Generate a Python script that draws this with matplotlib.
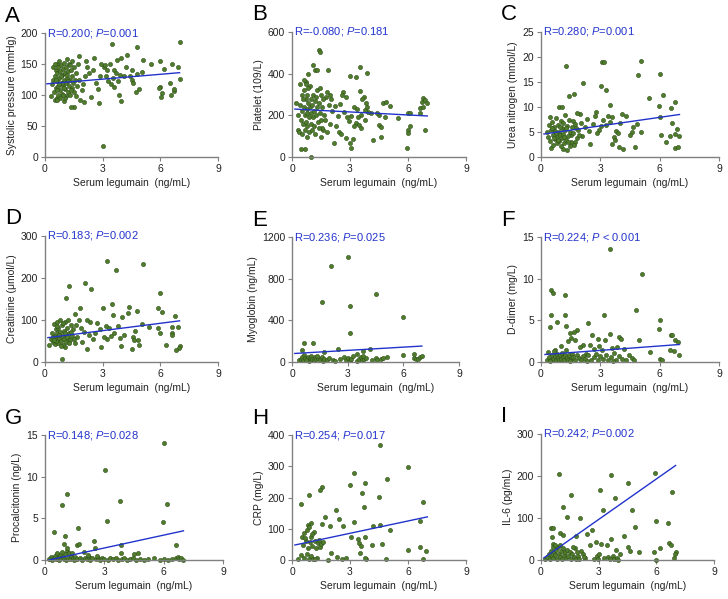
import numpy as np
import matplotlib
matplotlib.use("Agg")
import matplotlib.pyplot as plt

plt.rcParams['font.family'] = ['Liberation Sans', 'DejaVu Sans']
plt.rcParams['mathtext.fontset'] = 'custom'
plt.rcParams['mathtext.rm'] = 'Liberation Sans'
plt.rcParams['mathtext.it'] = 'Liberation Sans:italic'

# ---- data ----
letters = ["A", "B", "C", "D", "E", "F", "G", "H", "I"]
ylabels = ["Systolic pressure (mmHg)", "Platelet (109/L)", "Urea nitrogen (mmol/L)",
           "Creatinine (\u03bcmol/L)", "Myoglobin (ng/mL)", "D-dimer (mg/L)",
           "Procalcitonin (ng/L)", "CRP (mg/L)", "IL-6 (pg/mL)"]
r_values = ["0.200", "-0.080", "0.280", "0.183", "0.236", "0.224", "0.148", "0.254", "0.242"]
p_values = ["=0.001", "=0.181", "=0.001", "=0.002", "=0.025", " < 0.001", "=0.028", "=0.017", "=0.002"]
y_max = [200, 600, 25, 300, 1200, 15, 15, 400, 300]
y_step = [50, 200, 5, 100, 400, 5, 5, 100, 100]

# regression line ends (x0, y0, x1, y1)
fit_lines = [(0.1, 118, 7.0, 136), (0.15, 230, 7.0, 197), (0.15, 4.6, 7.0, 8.5),
             (0.15, 58, 7.0, 98), (0.15, 82, 7.0, 153), (0.2, 0.9, 7.0, 2.1),
             (0.2, 0.0, 7.0, 3.5), (0.15, 48, 7.0, 138), (0.15, 5, 7.0, 225)]

pts_a = [(3.0,17),(7.0,185),(4.8,178),(3.5,182),(1.75,163),(2.55,160),(4.25,165),(3.75,157),(3.95,160),
         (5.1,157),(5.5,150),(6.0,155),(6.2,142),(6.6,150),(6.9,145),(7.0,126),(6.0,113),(6.05,96),(6.1,104),
         (6.55,100),(6.7,106),(6.7,110),(6.5,120),(5.95,112),(4.75,105),(4.9,110),(4.5,125),(4.6,120),(4.4,130),
         (4.55,140),(4.8,134),(5.05,137),(3.85,100),(3.95,90),(3.6,113),(3.45,118),(3.3,122),(3.15,130),(3.05,145),
         (3.1,148),(3.25,140),(3.4,150),(3.6,140),(3.7,135),(3.55,127),(3.8,122),(3.9,133),(4.1,130),(4.2,145),
         (2.8,87),(2.4,97),(2.9,150),(2.85,130),(2.75,110),(2.65,120),(2.5,140),(2.3,135),(2.2,145),(2.1,130),
         (2.0,118),(1.9,108),(1.8,92),(2.05,88),(1.5,80),(1.35,80),(2.15,155),
         (0.3,98),(0.35,118),(0.4,125),(0.45,105),(0.5,92),(0.5,130),(0.55,140),(0.55,112),(0.6,95),(0.6,150),
         (0.65,122),(0.65,135),(0.7,100),(0.7,145),(0.7,115),(0.75,128),(0.75,155),(0.8,108),(0.8,138),(0.8,95),
         (0.85,120),(0.85,148),(0.9,132),(0.9,102),(0.95,115),(0.95,142),(1.0,125),(1.0,90),(1.0,152),(1.05,110),
         (1.05,135),(1.1,120),(1.1,145),(1.1,98),(1.15,128),(1.15,158),(1.2,105),(1.2,138),(1.25,115),(1.25,150),
         (1.3,125),(1.3,100),(1.35,140),(1.4,112),(1.4,130),(1.45,120),(1.5,145),(1.5,105),(1.55,125),(1.6,135),
         (1.6,98),(1.65,115),(1.7,150),(1.75,125),(0.4,145),(0.5,150),(0.6,108),(0.9,120),(1.2,122),(0.75,118),
         (1.0,112),(1.3,148),(0.65,92),(0.85,130),(1.05,95),(1.4,155),(0.55,125),(0.95,100),(1.15,132),(1.35,108)]

pts_b = [(1.4,515),(1.45,505),(1.1,440),(1.2,420),(1.3,420),(1.85,420),(3.5,430),(3.9,405),(3.0,390),(3.3,385),
         (0.85,400),(0.7,360),(0.6,370),(1.0,0),(0.45,40),(0.65,40),(5.95,45),(3.05,45),(3.0,65),(2.15,65),
         (4.2,80),(4.6,95),(3.15,85),(2.8,90),(6.9,130),(6.1,150),(6.0,130),(6.0,115),(5.5,185),(4.8,190),
         (4.5,200),(4.4,210),(4.7,260),(4.85,265),(5.05,245),(6.0,210),(6.1,210),(6.6,210),(6.6,235),(6.7,265),
         (6.75,285),(6.9,275),(7.0,260),(6.8,240),(4.5,155),(4.6,145),(4.1,210),(3.95,215),(3.85,260),(3.7,290),
         (3.5,315),(3.6,280),(3.75,225),(3.55,200),(3.4,190),(3.3,165),(3.2,150),(3.45,155),(3.55,140),(3.75,180),
         (3.9,240),(2.65,310),(2.6,300),(2.8,290),(2.5,255),(2.4,195),(2.3,150),(2.45,120),(2.55,110),(2.7,215),
         (2.85,190),(2.95,175),(3.05,195),(3.2,240),(3.35,230),(2.0,280),(1.95,300),(1.8,310),(1.75,290),(1.9,250),
         (2.05,220),(1.7,180),(1.6,130),(1.5,95),(1.55,140),(1.8,120),(1.95,160),(2.2,245),
         (0.2,260),(0.3,200),(0.3,130),(0.35,120),(0.4,350),(0.4,250),(0.45,180),(0.5,300),(0.5,220),(0.5,110),
         (0.55,160),(0.6,320),(0.6,240),(0.65,200),(0.65,130),(0.7,280),(0.7,170),(0.75,230),(0.75,95),(0.8,300),
         (0.8,210),(0.8,150),(0.85,260),(0.9,190),(0.9,120),(0.95,340),(0.95,240),(1.0,280),(1.0,160),(1.0,210),
         (1.05,130),(1.05,250),(1.1,300),(1.1,190),(1.15,220),(1.15,150),(1.2,270),(1.2,110),(1.25,200),(1.3,320),
         (1.3,240),(1.35,170),(1.4,140),(1.4,260),(1.45,210),(1.5,300),(1.5,180),(1.55,240),(1.6,280),(1.65,200),
         (0.55,280),(0.85,330),(1.25,290),(0.7,350),(1.45,330)]

pts_c = [(1.25,18.3),(3.1,19),(3.2,19),(5.05,19.3),(4.9,16.4),(6.0,16.6),(2.1,14.8),(3.05,14.3),(3.3,13.4),
         (1.65,12.7),(1.4,12.3),(5.45,11.9),(6.15,12.5),(6.8,11.0),(5.95,10.3),(6.55,9.8),(3.5,10.5),(0.9,10.1),
         (1.05,10.1),(0.45,8.0),(6.0,8.1),(6.6,6.9),(6.9,5.6),(6.75,4.6),(7.0,4.2),(6.5,4.2),(6.05,4.5),(6.3,3.1),
         (6.75,1.8),(6.95,2.0),(5.05,5.0),(4.75,2.0),(4.15,1.6),(3.95,2.0),(4.0,6.8),(4.3,8.2),(4.1,8.6),(4.6,5.0),
         (4.65,6.0),(4.5,4.5),(4.85,6.6),(3.6,2.7),(3.7,4.0),(3.75,3.4),(3.8,5.2),(3.9,4.8),(3.6,8.0),(3.4,8.3),
         (3.5,7.0),(3.3,6.5),(3.15,7.5),(3.05,6.2),(2.95,5.5),(2.85,4.8),(2.8,9.0),(2.75,8.3),(2.65,6.6),(2.5,2.7),
         (2.45,5.3),(2.35,7.6),(2.2,6.0),(2.05,4.2),(1.95,8.6),(1.8,8.9),(1.75,5.8),(1.7,3.0),(1.6,7.2),(1.5,4.5),
         (1.45,2.2),(1.3,1.4),(1.1,1.6),
         (0.3,5.0),(0.35,4.0),(0.4,6.5),(0.45,3.2),(0.5,5.5),(0.5,1.8),(0.55,7.0),(0.6,4.4),(0.6,2.5),(0.65,6.0),
         (0.7,3.6),(0.7,5.2),(0.75,7.8),(0.8,4.0),(0.8,2.9),(0.85,6.4),(0.9,5.0),(0.9,3.3),(0.95,4.5),(1.0,7.2),
         (1.0,2.2),(1.05,5.8),(1.05,3.8),(1.1,6.8),(1.1,4.6),(1.15,2.8),(1.2,5.4),(1.2,8.5),(1.25,3.5),(1.3,6.2),
         (1.35,4.2),(1.4,7.5),(1.45,5.0),(1.5,3.0),(1.55,6.0),(1.6,4.8),(1.65,2.5),(1.7,6.6),(1.8,3.8),(1.85,5.5),
         (1.9,4.4),(2.0,6.8),(0.65,3.9),(0.95,6.1),(1.25,5.8),(0.75,4.8),(1.15,4.0),(0.55,5.8),(0.85,3.4),(1.35,3.1)]

pts_d = [(3.2,240),(5.1,233),(3.7,218),(2.1,188),(1.25,182),(2.4,175),(6.0,165),(1.1,152),(3.5,138),(4.35,132),
         (1.8,128),(3.0,128),(5.9,128),(4.8,122),(6.1,118),(4.3,117),(1.55,115),(3.55,112),(6.75,110),(4.0,108),
         (5.05,90),(5.4,83),(5.9,80),(6.0,70),(6.6,68),(6.6,65),(6.9,83),(6.6,83),(7.0,38),(6.95,33),(6.8,28),
         (6.3,40),(4.5,30),(2.9,35),(3.95,38),(2.2,30),(0.9,6),(1.05,35),(3.15,85),(3.35,82),(3.6,70),(3.8,85),
         (3.9,58),(4.1,65),(4.6,60),(4.7,75),(4.85,53),(4.9,40),(4.65,52),(3.45,62),(3.25,55),(3.05,60),(2.85,78),
         (2.7,92),(2.6,68),(2.5,55),(2.35,95),(2.3,65),(2.2,100),(2.05,72),(1.95,48),(1.85,80),(1.75,100),(1.65,60),
         (1.6,88),(1.55,45),
         (0.2,40),(0.3,55),(0.35,70),(0.4,48),(0.45,90),(0.5,62),(0.5,42),(0.55,78),(0.6,55),(0.6,95),(0.65,68),
         (0.7,45),(0.7,82),(0.75,58),(0.8,100),(0.8,72),(0.85,50),(0.9,88),(0.9,62),(0.95,40),(1.0,75),(1.0,55),
         (1.05,95),(1.1,65),(1.1,48),(1.15,82),(1.2,58),(1.2,100),(1.25,70),(1.3,52),(1.35,88),(1.4,62),(1.45,78),
         (1.5,55),(0.4,60),(0.65,85),(0.85,38),(1.05,68),(0.55,50),(0.95,92),(1.25,45),(0.75,65),(1.15,60),
         (0.45,52),(1.35,72)]

pts_e = [(3.0,1005),(2.1,925),(4.5,650),(1.6,580),(3.15,540),(6.0,430),(3.1,275),(0.65,185),(1.15,180),
         (0.55,120),(2.5,125),(4.2,125),(3.8,110),(1.7,95),(3.5,80),(0.65,70),(6.55,75),(6.0,65),
         (0.4,20),(0.5,30),(0.55,45),(0.6,15),(0.7,35),(0.8,25),(0.85,50),(0.9,10),(0.95,40),(1.0,20),(1.05,55),
         (1.1,30),(1.2,15),(1.25,45),(1.3,25),(1.4,35),(1.5,20),(1.6,50),(1.65,10),(1.75,30),(1.9,20),(2.0,40),
         (2.2,15),(2.3,10),(2.6,25),(2.8,45),(2.9,20),(3.0,35),(3.1,15),(3.2,25),(3.5,10),(3.6,30),(3.7,45),
         (3.75,15),(3.9,25),(4.0,40),(4.3,20),(4.5,35),(4.6,15),(4.8,25),(4.9,40),(5.1,50),(6.6,40),(6.7,25),
         (6.8,30),(6.9,45),(7.0,55),(0.75,15),(1.35,60),(3.3,55),(3.85,60)]

pts_f = [(3.5,13.6),(5.1,10.6),(0.5,8.6),(0.6,8.3),(1.2,8.0),(4.8,6.2),(0.5,5.6),(1.2,5.6),(3.2,5.6),(6.0,5.0),
         (0.45,4.2),(0.8,4.8),(1.25,4.3),(2.4,4.7),(5.95,4.0),(1.45,3.5),(1.8,3.8),(1.65,3.6),(3.5,3.4),(2.6,3.2),
         (2.9,2.8),(3.25,2.7),(3.95,3.0),(4.05,2.8),(4.95,2.7),(6.55,3.3),(6.6,3.2),(6.8,2.6),(6.95,2.4),(7.0,0.8),
         (6.5,1.4),(6.7,1.3),(6.0,0.4),(6.1,0.2),(5.5,1.2),(4.6,0.5),(4.2,1.6),(3.85,1.8),(3.6,1.7),(3.1,1.4),
         (2.95,1.9),(2.7,1.6),(2.5,2.0),(2.3,1.0),(2.1,2.1),(1.95,1.8),(1.7,2.6),(1.5,2.9),(1.35,2.5),(1.0,1.9),
         (0.7,1.5),(0.35,1.2),
         (0.3,0.3),(0.4,0.6),(0.5,0.2),(0.55,0.9),(0.6,0.4),(0.7,0.7),(0.75,0.2),(0.8,1.0),(0.85,0.5),(0.9,0.3),
         (0.95,0.8),(1.0,0.4),(1.05,1.1),(1.1,0.6),(1.15,0.2),(1.2,0.9),(1.3,0.5),(1.35,0.3),(1.4,0.8),(1.5,0.4),
         (1.55,1.0),(1.6,0.6),(1.7,0.3),(1.8,0.8),(1.9,0.5),(2.0,0.2),(2.1,0.7),(2.2,0.4),(2.4,0.9),(2.55,0.3),
         (2.7,0.6),(2.8,1.0),(2.9,0.2),(3.0,0.7),(3.15,0.4),(3.3,0.9),(3.4,0.3),(3.55,0.6),(3.7,1.1),(3.8,0.3),
         (3.95,0.7),(4.1,0.4),(4.3,0.2),(4.45,0.8),(4.7,0.3),(0.65,1.3),(1.25,1.5),(0.45,0.1),(1.45,0.1),
         (2.35,0.1),(3.65,0.1)]

pts_g = [(6.0,14.1),(3.05,10.8),(1.1,7.9),(0.85,6.6),(3.8,7.1),(6.15,6.7),(3.15,4.7),(5.95,4.6),(1.65,3.8),
         (0.45,3.4),(1.0,2.9),(2.5,2.3),(0.95,1.9),(1.6,1.8),(1.7,1.9),(3.85,1.8),(6.6,1.8),(2.55,1.4),(3.85,0.8),
         (4.5,0.7),(4.7,0.8),(1.95,1.0),(1.1,1.1),(0.6,0.7),(0.3,0.4),
         (0.2,0.1),(0.35,0.0),(0.45,0.2),(0.5,0.5),(0.55,0.1),(0.65,0.3),(0.7,0.0),(0.75,0.6),(0.8,0.2),(0.9,0.4),
         (0.95,0.1),(1.0,0.7),(1.05,0.0),(1.15,0.3),(1.2,0.9),(1.25,0.1),(1.3,0.5),(1.4,0.2),(1.45,0.0),(1.5,0.4),
         (1.6,0.1),(1.75,0.3),(1.85,0.0),(2.0,0.2),(2.1,0.1),(2.2,0.4),(2.3,0.0),(2.4,0.2),(2.6,0.1),(2.7,0.3),
         (2.8,0.0),(2.9,0.2),(3.0,0.1),(3.2,0.0),(3.3,0.2),(3.45,0.1),(3.6,0.3),(3.7,0.0),(3.9,0.1),(4.0,0.2),
         (4.15,0.0),(4.3,0.1),(4.45,0.3),(4.6,0.0),(4.8,0.1),(5.0,0.0),(5.2,0.1),(5.5,0.2),(5.8,0.0),(6.0,0.1),
         (6.2,0.0),(6.4,0.1),(6.6,0.3),(6.7,0.4),(6.8,0.1),(6.9,0.2),(7.0,0.0),(1.1,1.4),(0.85,1.0),(0.6,0.9),
         (1.35,0.8),(2.15,0.6),(2.65,0.5)]

pts_h = [(4.55,368),(6.0,298),(3.2,278),(4.9,258),(3.75,246),(3.0,240),(1.55,235),(1.45,225),(3.6,216),
         (0.9,207),(4.5,203),(6.75,185),(0.45,180),(3.7,170),(2.25,160),(1.7,138),(2.45,132),(6.6,126),(1.0,118),
         (1.55,115),(3.2,123),(1.95,108),(2.65,108),(0.85,112),(4.2,108),(4.55,112),(5.05,96),(3.05,74),(3.4,68),
         (3.8,74),(3.45,55),(3.55,45),(4.15,48),(4.65,52),(6.6,42),(6.0,32),(6.95,30),(3.5,22),(2.0,22),(1.85,0),
         (2.35,10),(2.6,2),(2.8,5),(3.85,3),(3.75,5),(4.85,2),(6.8,3),
         (0.3,2),(0.45,15),(0.5,75),(0.55,48),(0.6,85),(0.6,8),(0.7,62),(0.75,20),(0.8,95),(0.85,40),(0.9,105),
         (0.9,2),(0.95,58),(1.0,75),(1.0,12),(1.05,45),(1.1,3),(1.15,90),(1.2,62),(1.25,38),(1.3,5),(1.35,55),
         (1.4,65),(1.45,42),(1.5,50),(1.6,58),(1.2,2),(0.65,70),(1.05,82)]

pts_i = [(0.95,205),(5.95,208),(3.65,202),(4.5,183),(3.05,167),(6.8,163),(1.55,155),(3.85,148),(1.15,127),
         (3.2,120),(4.75,120),(1.35,103),(2.05,99),(6.0,93),(6.6,89),(4.9,79),(0.5,77),(0.65,77),(2.65,71),
         (2.4,62),(1.8,57),(1.0,65),(1.15,60),(0.55,55),(0.6,38),(4.3,58),(3.65,51),(2.85,42),(3.1,37),(3.45,35),
         (6.65,40),(6.75,35),(2.55,36),(4.5,32),(3.9,25),(4.65,22),(4.1,15),(5.1,18),(5.9,20),(6.2,28),(7.0,20),
         (6.95,15),(6.9,5),
         (0.2,2),(0.3,8),(0.4,15),(0.45,3),(0.5,22),(0.55,10),(0.6,30),(0.65,5),(0.7,18),(0.75,12),(0.8,25),
         (0.85,3),(0.9,32),(0.95,15),(1.0,8),(1.05,22),(1.1,2),(1.15,28),(1.2,12),(1.25,18),(1.3,5),(1.35,25),
         (1.4,10),(1.5,20),(1.55,3),(1.6,15),(1.7,8),(1.75,28),(1.8,2),(1.85,18),(1.95,10),(2.0,3),(2.1,22),
         (2.2,15),(2.3,5),(2.75,3),(2.9,10),(2.95,2),(3.0,15),(3.3,5),(3.5,8),(3.6,2),(3.75,10),(3.8,3),(3.95,5),
         (4.0,1),(6.0,1),(1.0,35),(0.75,35),(1.65,30),(2.25,8)]

all_points = [pts_a, pts_b, pts_c, pts_d, pts_e, pts_f, pts_g, pts_h, pts_i]

# axes boxes in pixels: left, right, top, bottom
W, H = 728, 599
boxes = [(45, 218, 33, 157), (292, 466, 32, 157), (541, 719, 32, 157),
         (45, 218, 236, 362), (292, 459, 237, 362), (541, 719, 237, 362),
         (45, 223, 435, 560), (292, 466, 435, 560), (541, 714, 434, 560)]

fig = plt.figure(figsize=(W / 100, H / 100), dpi=100)

for k in range(9):
    l, r, t, b = boxes[k]
    ax = fig.add_axes([l / W, 1 - b / H, (r - l) / W, (b - t) / H])
    pts = np.array(all_points[k])
    ax.scatter(pts[:, 0], pts[:, 1], s=9, color="#4f7d2c", edgecolors="#2f4d1a",
               linewidths=0.4, zorder=2, clip_on=False)
    x0, y0, x1, y1 = fit_lines[k]
    ax.plot([x0, x1], [y0, y1], color="#2233cc", lw=1.0, zorder=3)
    ax.set_xlim(0, 9)
    ax.set_ylim(0, y_max[k])
    ax.set_xticks([0, 3, 6, 9])
    ax.set_yticks(np.arange(0, y_max[k] + 1e-9, y_step[k]))
    ax.yaxis.set_major_formatter(matplotlib.ticker.FormatStrFormatter('%g'))
    for side in ["top", "right"]:
        ax.spines[side].set_visible(False)
    for side in ["left", "bottom"]:
        ax.spines[side].set_color("#808080")
        ax.spines[side].set_linewidth(1.0)
    ax.tick_params(labelsize=7.5, length=3, width=0.8, color="#808080", pad=2, labelcolor="#222222")
    ax.set_xlabel("Serum legumain  (ng/mL)", fontsize=7.5, labelpad=3, color="#222222")
    ax.set_ylabel(ylabels[k], fontsize=7.5, labelpad=3, color="#222222")
    ax.text(0.01, 1.0, "R=" + r_values[k] + "; $\\it{P}$" + p_values[k], transform=ax.transAxes,
            color="#2233cc", fontsize=8, va="center", ha="left", zorder=4)
    fig.text((l - 40) / W, 1 - (t - 17) / H, letters[k], fontsize=16, va="center", ha="left")

fig.savefig("out.png", dpi=100)
